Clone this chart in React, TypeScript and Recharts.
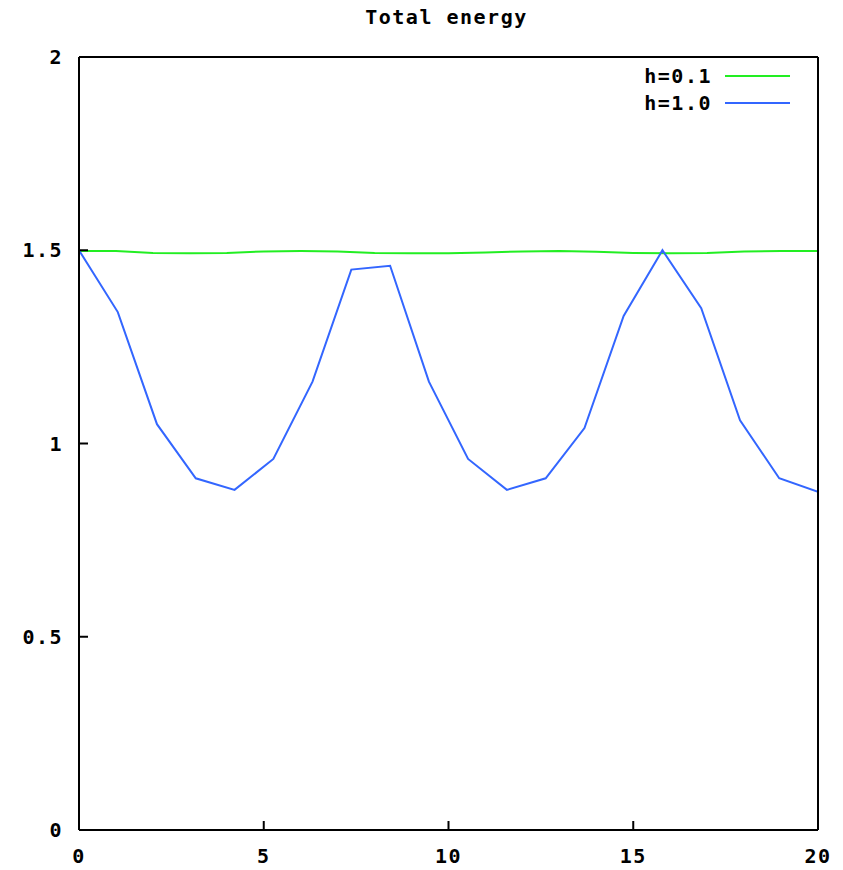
import { LineChart, Line, XAxis, YAxis } from 'recharts'

// time samples for the h=1.0 run
const coarseT = [0, 1.05, 2.11, 3.16, 4.21, 5.26, 6.32, 7.37, 8.42, 9.47, 10.53, 11.58, 12.63, 13.68, 14.74, 15.79, 16.84, 17.89, 18.95, 20]
const coarseE = [1.5, 1.34, 1.05, 0.91, 0.88, 0.96, 1.16, 1.45, 1.46, 1.16, 0.96, 0.88, 0.91, 1.04, 1.33, 1.5, 1.35, 1.06, 0.91, 0.875]

// h=0.1 run, sampled once per time unit
const fineT = [0, 1, 2, 3, 4, 5, 6, 7, 8, 9, 10, 11, 12, 13, 14, 15, 16, 17, 18, 19, 20]
const fineE = [1.498, 1.498, 1.493, 1.492, 1.493, 1.497, 1.498, 1.497, 1.493, 1.492, 1.492, 1.494, 1.497, 1.498, 1.496, 1.493, 1.492, 1.493, 1.497, 1.498, 1.498]

const xTicks = [0, 5, 10, 15, 20]
const yTicks = [0, 0.5, 1, 1.5, 2]

const fineData = fineT.map((t, i) => ({ t, e: fineE[i] }))
const coarseData = coarseT.map((t, i) => ({ t, e: coarseE[i] }))

const FONT = '"DejaVu Sans Mono", monospace'
const tickStyle = { fontFamily: FONT, fontWeight: 700, fontSize: 20, letterSpacing: 1.5, fill: '#000' }

const series = [
  { name: 'h=0.1', color: '#22ee22' },
  { name: 'h=1.0', color: '#3366ff' },
]

// gnuplot-style key in the top right corner; kept outside recharts so it
// doesn't eat into the plot area
function Key() {
  return (
    <div
      style={{
        position: 'absolute',
        top: 62,
        left: 590,
        width: 200,
        fontFamily: FONT,
        fontWeight: 700,
        fontSize: 20,
        letterSpacing: 1.5,
      }}
    >
      {series.map((s) => (
        <div key={s.name} style={{ display: 'flex', alignItems: 'center', justifyContent: 'flex-end', height: 27 }}>
          <span>{s.name}</span>
          <span style={{ display: 'inline-block', width: 65, height: 0, borderTop: `2px solid ${s.color}`, marginLeft: 13 }} />
        </div>
      ))}
    </div>
  )
}

export default function App() {
  return (
    <div style={{ position: 'absolute', left: 0, top: 0, width: 843, height: 870, background: '#fff' }}>
      <div
        style={{
          position: 'absolute',
          top: 5,
          left: 0,
          width: 893,
          textAlign: 'center',
          fontFamily: FONT,
          fontWeight: 700,
          fontSize: 20,
          letterSpacing: 1.5,
        }}
      >
        Total energy
      </div>
      <LineChart width={843} height={870} margin={{ top: 0, right: 0, bottom: 0, left: 0 }}>
        <XAxis
          xAxisId="b"
          type="number"
          dataKey="t"
          domain={[0, 20]}
          ticks={xTicks}
          allowDataOverflow
          height={40}
          stroke="#000"
          strokeWidth={2}
          tickSize={-9}
          tickMargin={28}
          tick={tickStyle}
        />
        <XAxis
          xAxisId="t"
          orientation="top"
          type="number"
          dataKey="t"
          domain={[0, 20]}
          ticks={xTicks}
          height={57}
          stroke="#000"
          strokeWidth={2}
          tickSize={-9}
          tick={false}
        />
        <YAxis
          yAxisId="l"
          type="number"
          domain={[0, 2]}
          ticks={yTicks}
          width={79}
          stroke="#000"
          strokeWidth={2}
          tickSize={-9}
          tickMargin={25}
          tick={tickStyle}
        />
        <YAxis
          yAxisId="r"
          orientation="right"
          type="number"
          domain={[0, 2]}
          ticks={yTicks}
          width={25}
          stroke="#000"
          strokeWidth={2}
          tickSize={-9}
          tick={false}
        />
        <Line
          xAxisId="b"
          yAxisId="l"
          data={fineData}
          dataKey="e"
          name="h=0.1"
          type="linear"
          stroke="#22ee22"
          strokeWidth={2}
          dot={false}
          isAnimationActive={false}
        />
        <Line
          xAxisId="b"
          yAxisId="l"
          data={coarseData}
          dataKey="e"
          name="h=1.0"
          type="linear"
          stroke="#3366ff"
          strokeWidth={2}
          dot={false}
          isAnimationActive={false}
        />
      </LineChart>
      <Key />
    </div>
  )
}
